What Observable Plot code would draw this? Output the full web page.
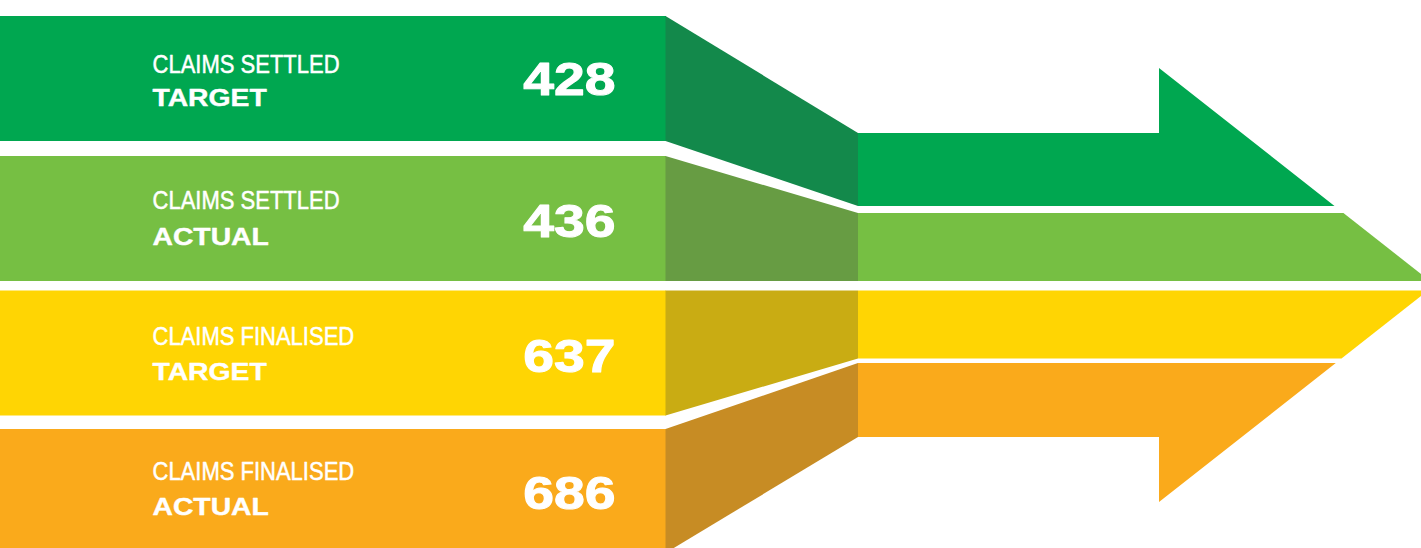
<!DOCTYPE html>
<html>
<head>
<meta charset="utf-8">
<script src="https://cdn.jsdelivr.net/npm/d3@7"></script>
<script src="https://cdn.jsdelivr.net/npm/@observablehq/plot@0.6"></script>
<style>
  html, body { margin: 0; padding: 0; background: #fff; overflow: hidden; }
  #chart svg { display: block; }
</style>
</head>
<body>
<div id="chart"></div>
<script>
// ---- data ----
const metrics = ["CLAIMS SETTLED", "CLAIMS SETTLED", "CLAIMS FINALISED", "CLAIMS FINALISED"];
const kinds = ["TARGET", "ACTUAL", "TARGET", "ACTUAL"];
const values = [428, 436, 637, 686];
const bandColors = ["#00A750", "#76BF43", "#FFD503", "#FAAA1B"];
const sideColors = ["#13894B", "#679C43", "#C9AC13", "#C78C24"];

// ---- layout ----
const W = 1421, H = 548;
const leftTop = [16, 156, 290.5, 429];
const leftBottom = [141, 281, 415.5, 553];
const rightTop = [133, 213, 290.5, 363];
const rightBottom = [206, 281, 358.5, 437];
const xLeftEnd = 665.5, xRightStart = 858;
const shoulderX = 1159, headTop = 68, headBottom = 502, tipX = 1435, tipY = 285;
const line1Base = [72.3, 208.5, 344, 479];
const line2Base = [105.7, 244, 379, 514];
const numBase = [94, 236, 371.5, 508];
const textX = 152, numRight = 615;

const slope = (tipX - shoulderX) / (tipY - headTop);
const xDiag = y => tipX - Math.abs(y - tipY) * slope;

const shapes = [];
values.forEach((v, i) => {
  const lt = leftTop[i], lb = leftBottom[i], rt = rightTop[i], rb = rightBottom[i];
  const c = bandColors[i];
  // left panel
  shapes.push({key: `L${i}`, x: 0, y1: lt, y2: lb, fill: c});
  shapes.push({key: `L${i}`, x: xLeftEnd + 0.5, y1: lt, y2: lb, fill: c});
  // side connector
  shapes.push({key: `S${i}`, x: xLeftEnd, y1: lt, y2: lb, fill: sideColors[i]});
  shapes.push({key: `S${i}`, x: xRightStart, y1: rt, y2: rb, fill: sideColors[i]});
  // arrow band
  const k = `R${i}`;
  shapes.push({key: k, x: xRightStart, y1: rt, y2: rb, fill: c});
  if (i === 0) {
    shapes.push({key: k, x: shoulderX, y1: rt, y2: rb, fill: c});
    shapes.push({key: k, x: shoulderX, y1: headTop, y2: rb, fill: c});
    shapes.push({key: k, x: xDiag(rb), y1: rb, y2: rb, fill: c});
  } else if (i === values.length - 1) {
    shapes.push({key: k, x: shoulderX, y1: rt, y2: rb, fill: c});
    shapes.push({key: k, x: shoulderX, y1: rt, y2: headBottom, fill: c});
    shapes.push({key: k, x: xDiag(rt), y1: rt, y2: rt, fill: c});
  } else {
    const xt = xDiag(rt), xb = xDiag(rb);
    shapes.push({key: k, x: Math.min(xt, xb), y1: rt, y2: rb, fill: c});
    if (xt > xb) shapes.push({key: k, x: xt, y1: rt, y2: rt, fill: c});
    else shapes.push({key: k, x: xb, y1: rb, y2: rb, fill: c});
  }
});

const labels = values.map((v, i) => ({
  metric: metrics[i], kind: kinds[i], value: String(v),
  y1: line1Base[i], y2: line2Base[i], yn: numBase[i]
}));

const plot = Plot.plot({
  width: W, height: H,
  margin: 0,
  x: {domain: [0, W], range: [0, W], axis: null},
  y: {domain: [0, H], range: [0, H], axis: null},
  color: {type: "identity"},
  style: {background: "#fff", overflow: "hidden"},
  marks: [
    Plot.areaY(shapes, {x: "x", y1: "y1", y2: "y2", z: "key", fill: "fill", curve: "linear"}),
    Plot.text(labels, {x: textX, y: "y1", text: "metric", textAnchor: "start", lineAnchor: "bottom",
      fill: "#fff", stroke: "#fff", strokeWidth: 0.5,
      fontSize: 25, fontFamily: "Liberation Sans, Arial, sans-serif"}),
    Plot.text(labels, {x: textX, y: "y2", text: "kind", textAnchor: "start", lineAnchor: "bottom",
      fill: "#fff", stroke: "#fff", strokeWidth: 0.4,
      fontSize: 23, fontWeight: "bold", fontFamily: "Liberation Sans, Arial, sans-serif"}),
    Plot.text(labels, {x: numRight, y: "yn", text: "value", textAnchor: "end", lineAnchor: "bottom",
      fill: "#fff", stroke: "#fff", strokeWidth: 1,
      fontSize: 46.5, fontWeight: "bold", fontFamily: "Liberation Sans, Arial, sans-serif"})
  ]
});

document.getElementById("chart").append(plot);

// horizontal stretch to mimic condensed/extended display type
const stretch = [0.88, 1.23, 1.19];
plot.querySelectorAll('g[aria-label="text"]').forEach((g, gi) => {
  g.querySelectorAll("text").forEach(t => {
    const w = t.getComputedTextLength();
    t.setAttribute("textLength", (w * stretch[gi]).toFixed(1));
    t.setAttribute("lengthAdjust", "spacingAndGlyphs");
  });
});
</script>
</body>
</html>
